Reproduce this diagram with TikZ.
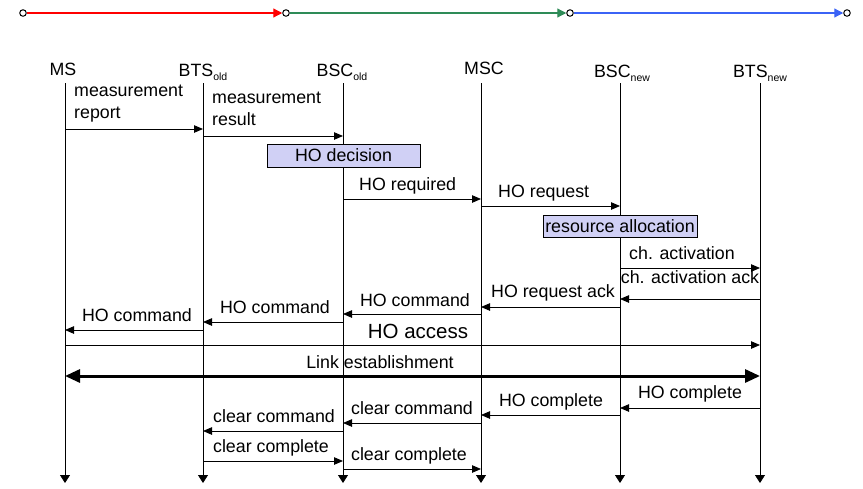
\documentclass[tikz,border=0pt]{standalone}
\usepackage{fontspec}
\setmainfont{Liberation Sans}
\usetikzlibrary{arrows.meta,positioning}
\definecolor{barred}{RGB}{255,0,0}
\definecolor{bargreen}{RGB}{46,139,87}
\definecolor{barblue}{RGB}{59,99,246}
\definecolor{boxfill}{RGB}{208,208,245}
\newcommand{\lowidx}[1]{\raisebox{-4pt}{\fontsize{10.5}{11}\selectfont #1}}
\tikzstyle{station}=[draw,circle,fill=white,line width=1pt,minimum size=6.5pt,inner sep=0pt]
\tikzstyle{phase}=[line width=1.2pt,-{Triangle[length=9pt,width=9pt]}]
\tikzstyle{head}=[font=\fontsize{17.8}{20}\selectfont,inner sep=0pt,anchor=base]
\tikzstyle{life}=[line width=0.8pt,-{Triangle[length=8pt,width=10pt]}]
\tikzstyle{msg}=[line width=0.8pt,-{Triangle[length=9pt,width=7.5pt]}]
\tikzstyle{lbl}=[font=\fontsize{17.8}{22}\selectfont,inner sep=0pt,anchor=base]
\tikzstyle{task}=[draw,fill=boxfill,line width=0.8pt,font=\fontsize{17.8}{20}\selectfont,inner sep=0pt]

\begin{document}
\begin{tikzpicture}[x=1pt,y=-1pt]
\useasboundingbox (0,0) rectangle (863,488);
% phases on top
\node[station] (p0) at (23,13) {};
\node[station] (p1) at (286,13) {};
\node[station] (p2) at (570,13) {};
\node[station] (p3) at (847,13) {};
\draw[phase,barred] (p0) -- (p1);
\draw[phase,bargreen] (p1) -- (p2);
\draw[phase,barblue] (p2) -- (p3);
% entities
\node[head] (ms) at (63,75) {MS};
\node[head] (btsold) at (203,76) {BTS\lowidx{old}};
\node[head] (bscold) at (342,76) {BSC\lowidx{old}};
\node[head] (msc) at (484,74) {MSC};
\node[head] (bscnew) at (622,77) {BSC\lowidx{new}};
\node[head] (btsnew) at (760,77) {BTS\lowidx{new}};
\foreach \n/\x in {ms/65,btsold/203,bscold/343,msc/481,bscnew/620,btsnew/760}{
  \coordinate (\n-t) at (\x,83);
  \coordinate (\n-b) at (\x,483);
  \draw[life] (\n-t) -- (\n-b);
}
% rows of the messages
\foreach \r/\y in {rep/129,res/136,req/199,hoq/206,act/268,ack/299,hra/307,
  cmd1/314,cmd2/322,cmd3/330,acc/345,link/376,cpl1/408,cpl2/415,
  clr1/423,clr2/431,clc1/461,clc2/469}
  \coordinate (\r) at (0,\y);
% measurement
\draw[msg] (ms-t |- rep) -- (btsold-t |- rep);
\node[lbl,anchor=base west,align=left] (l-rep) at (74,118) {measurement\\report};
\draw[msg] (btsold-t |- res) -- (bscold-t |- res);
\node[lbl,anchor=base west,align=left] (l-res) at (212,125) {measurement\\result};
\node[task,minimum width=153pt,minimum height=23pt] (dec) at (343.5,155.5) {HO decision};
% handover request
\draw[msg] (bscold-t |- req) -- (msc-t |- req);
\node[lbl,anchor=base west] (l-req) at (359,190) {HO required};
\draw[msg] (msc-t |- hoq) -- (bscnew-t |- hoq);
\node[lbl,anchor=base west] (l-hoq) at (498,197) {HO request};
\node[task,minimum width=154pt,minimum height=22pt] (alloc) at (620,226) {resource allocation};
\draw[msg] (bscnew-t |- act) -- (btsnew-t |- act);
\node[lbl,anchor=base west] (l-act) at (629,259) {ch. activation};
\draw[msg] (btsnew-t |- ack) -- (bscnew-t |- ack);
\node[lbl] (l-ack) at (690,283) {ch. activation ack};
\draw[msg] (bscnew-t |- hra) -- (msc-t |- hra);
\node[lbl] (l-hra) at (553,297) {HO request ack};
% handover command
\draw[msg] (msc-t |- cmd1) -- (bscold-t |- cmd1);
\node[lbl] (l-cmd1) at (415,306) {HO command};
\draw[msg] (bscold-t |- cmd2) -- (btsold-t |- cmd2);
\node[lbl] (l-cmd2) at (275,313) {HO command};
\draw[msg] (btsold-t |- cmd3) -- (ms-t |- cmd3);
\node[lbl] (l-cmd3) at (137,321) {HO command};
\draw[msg] (ms-t |- acc) -- (btsnew-t |- acc);
\node[lbl,font=\fontsize{20.5}{24}\selectfont] (l-acc) at (418,338) {HO access};
\draw[line width=3pt,{Triangle[length=15pt,width=13pt]}-{Triangle[length=15pt,width=13pt]}] (ms-t |- link) -- (btsnew-t |- link);
\node[lbl] (l-link) at (380,368) {Link establishment};
% handover complete
\draw[msg] (btsnew-t |- cpl1) -- (bscnew-t |- cpl1);
\node[lbl] (l-cpl1) at (690,398) {HO complete};
\draw[msg] (bscnew-t |- cpl2) -- (msc-t |- cpl2);
\node[lbl] (l-cpl2) at (551,406) {HO complete};
\draw[msg] (msc-t |- clr1) -- (bscold-t |- clr1);
\node[lbl] (l-clr1) at (412,414) {clear command};
\draw[msg] (bscold-t |- clr2) -- (btsold-t |- clr2);
\node[lbl] (l-clr2) at (274,422) {clear command};
\draw[msg] (btsold-t |- clc1) -- (bscold-t |- clc1);
\node[lbl] (l-clc1) at (271,452) {clear complete};
\draw[msg] (bscold-t |- clc2) -- (msc-t |- clc2);
\node[lbl] (l-clc2) at (409,460) {clear complete};
\end{tikzpicture}
\end{document}
